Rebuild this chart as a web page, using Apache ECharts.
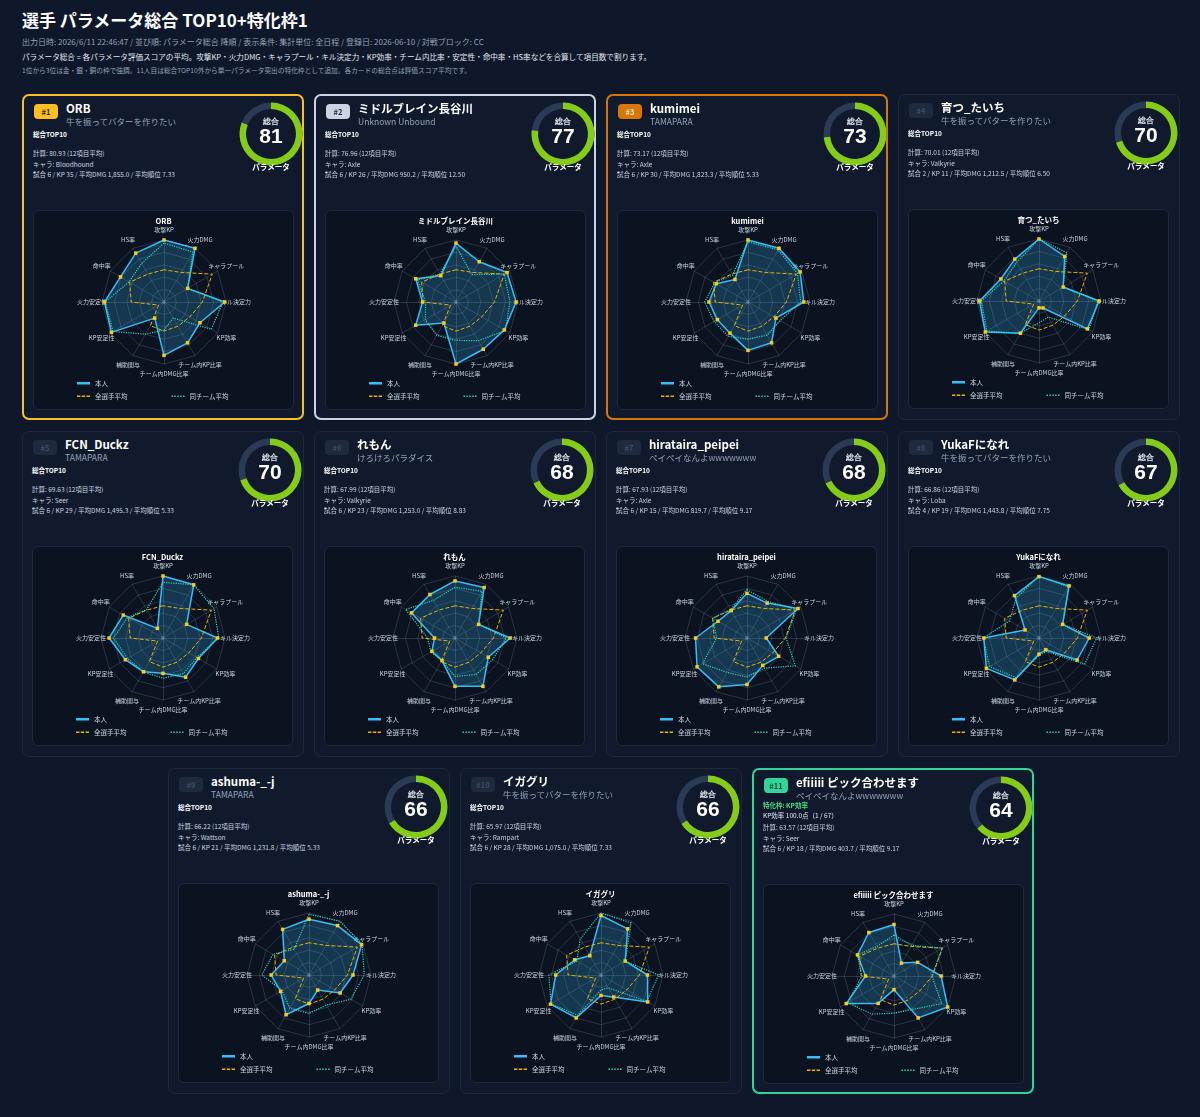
<!DOCTYPE html>
<html>
<head>
<meta charset="utf-8">
<script src="https://cdn.jsdelivr.net/npm/echarts@6/dist/echarts.min.js"></script>
<style>
body{margin:0;background:#0f172a;font-family:"Noto Sans CJK JP","Noto Sans",sans-serif;color:#e2e8f0;width:1200px;height:1117px;overflow:hidden;position:relative}
.h1{position:absolute;left:22px;top:7px;font-size:17px;font-weight:bold;color:#fff}
.meta{position:absolute;left:22px;top:36px;font-size:8px;color:#94a3b8}
.desc{position:absolute;left:22px;top:51px;font-size:7.6px;color:#e2e8f0}
.note{position:absolute;left:22px;top:65px;font-size:6.7px;color:#94a3b8}
.card{position:absolute;width:282px;height:326px;box-sizing:border-box;border-radius:7px;background:#111a2c;border:1px solid #1e293b}
.card>*{position:absolute}
.badge{left:10px;top:8px;width:24px;height:15px;border-radius:4px;font-size:7.5px;font-weight:bold;text-align:center;line-height:15px}
.name{left:42px;top:4px;font-size:11.5px;font-weight:bold;color:#fff;white-space:nowrap}
.team{left:42px;top:19px;font-size:8.5px;color:#94a3b8;white-space:nowrap}
.tag{left:9px;top:33px;font-size:6.5px;font-weight:bold;color:#fff}
.sp{left:9px;top:43px;font-size:6.5px;color:#e2e8f0}
.info{left:9px;font-size:6.5px;color:#cbd5e1;white-space:nowrap;line-height:10.5px}
.gauge{left:212px;top:3px;width:70px;height:70px}
.plabel{left:212px;top:65px;width:70px;text-align:center;font-size:7.5px;font-weight:bold;color:#fff}
.rbox{left:9px;top:114px;width:261px;height:200px;box-sizing:border-box;border:1px solid #1e293b;border-radius:6px;background:#0b1220}
.rchart{position:absolute;left:0;top:0;width:259px;height:198px}
</style>
</head>
<body>
<div class="h1">選手 パラメータ総合 TOP10+特化枠1</div>
<div class="meta">出力日時: 2026/6/11 22:46:47 / 並び順: パラメータ総合 降順 / 表示条件: 集計単位: 全日程 / 登録日: 2026-06-10 / 対戦ブロック: CC</div>
<div class="desc">パラメータ総合 = 各パラメータ評価スコアの平均。攻撃KP・火力DMG・キャラプール・キル決定力・KP効率・チーム内比率・安定性・命中率・HS率などを合算して項目数で割ります。</div>
<div class="note">1位から3位は金・銀・銅の枠で強調。11人目は総合TOP10外から単一パラメータ突出の特化枠として追加。各カードの総合点は評価スコア平均です。</div>
<script>
// radar axes (clockwise from top)
var axes=['攻撃KP','火力DMG','キャラプール','キル決定力','KP効率','チーム内KP比率','チーム内DMG比率','補助関与','KP安定性','火力安定性','命中率','HS率'];

var names=['ORB','ミドルブレイン長谷川','kumimei','育つ_たいち','FCN_Duckz','れもん','hirataira_peipei','YukaFになれ','ashuma-_-j','イガグリ','efiiiii ピック合わせます'];
var teams=['牛を振ってバターを作りたい','Unknown Unbound','TAMAPARA','牛を振ってバターを作りたい','TAMAPARA','けろけろパラダイス','ペイペイなんよwwwwwww','牛を振ってバターを作りたい','TAMAPARA','牛を振ってバターを作りたい','ペイペイなんよwwwwwww'];
var calc=[80.93,76.96,73.17,70.01,69.63,67.99,67.93,66.86,66.22,65.97,63.57];
var chars=['Bloodhound','Axle','Axle','Valkyrie','Seer','Valkyrie','Axle','Loba','Wattson','Rampart','Seer'];
var games=[6,6,6,2,6,6,6,4,6,6,6];
var kps=[35,26,30,11,29,23,15,19,21,28,18];
var avgDmg=['1,855.0','950.2','1,823.3','1,212.5','1,495.3','1,253.0','819.7','1,443.8','1,231.8','1,075.0','403.7'];
var avgRank=['7.33','12.50','5.33','6.50','5.33','8.83','9.17','7.75','5.33','7.33','9.17'];

var allAvg=[52,55,90,62,48,45,47,44,10,53,64,52];

var self1=[100,100,44,98,67,76,86,30,98,96,81,91];
var self2=[95,75,95,97,90,88,100,39,75,54,75,49];
var self3=[100,100,97,90,52,76,78,58,57,63,59,42];
var self4=[100,83,45,97,90,13,11,60,100,96,71,78];
var self5=[100,99,44,88,66,73,57,63,70,87,74,18];
var self6=[92,94,44,89,62,90,78,42,43,33,81,81];
var self7=[72,65,95,31,59,51,75,91,93,83,54,51];
var self8=[99,97,44,81,71,22,26,78,98,89,26,79];
var self9=[90,92,98,71,58,28,46,74,53,61,46,85];
var self10=[96,86,45,75,87,41,33,80,94,73,49,36];
var self11=[83,24,44,76,100,78,22,51,89,46,68,81];

var team1=[95,93,44,95,88,30,45,60,95,95,65,72];
var team2=[90,51,90,87,92,72,62,62,57,49,72,52];
var team3=[97,97,92,85,60,62,60,64,63,70,62,50];
var team4=[100,90,45,95,93,30,35,60,97,93,65,72];
var team5=[90,99,95,90,63,66,65,63,66,80,66,53];
var team6=[82,87,44,83,70,68,62,42,45,44,92,70];
var team7=[78,68,92,63,90,56,63,64,83,49,64,53];
var team8=[100,95,44,93,85,25,28,74,92,90,55,74];
var team9=[98,100,99,89,78,56,62,62,50,76,67,48];
var team10=[100,97,45,93,85,24,24,75,93,84,45,67];
var team11=[66,57,90,61,89,62,60,71,86,52,68,55];

var selfScores=[self1,self2,self3,self4,self5,self6,self7,self8,self9,self10,self11];
var teamScores=[team1,team2,team3,team4,team5,team6,team7,team8,team9,team10,team11];

var pos=[[22,94],[314,94],[606,94],[898,94],[22,431],[314,431],[606,431],[898,431],[168,768],[460,768],[752,768]];
var badgeStyle=[
  {bg:'#fbbf24',fg:'#3a2a05',border:'2px solid #fbbf24'},
  {bg:'#cbd5e1',fg:'#1e293b',border:'2px solid #cbd5e1'},
  {bg:'#d97706',fg:'#fde6c4',border:'2px solid #d97706'}
];

// echarts radar goes counter-clockwise, so flip the order
var order=[0,11,10,9,8,7,6,5,4,3,2,1];
function reorder(a){return order.map(function(k){return a[k];});}

var dashIcon='path://M0,0h5v2h-5z M7,0h5v2h-5z M14,0h5v2h-5z';
var dotIcon='path://M0,0h2v2h-2z M4,0h2v2h-2z M8,0h2v2h-2z M12,0h2v2h-2z M16,0h2v2h-2z';

names.forEach(function(nm,i){
  var c=document.createElement('div');
  c.className='card';
  c.style.left=pos[i][0]+'px';
  c.style.top=pos[i][1]+'px';
  var bs=badgeStyle[i]||(i==10?{bg:'#34d399',fg:'#064e3b',border:'2px solid #34d399'}:{bg:'#1e2a3d',fg:'#3d4d66',border:'1px solid #1e293b'});
  c.style.border=bs.border;
  var html='<div class="badge" style="background:'+bs.bg+';color:'+bs.fg+'">#'+(i+1)+'</div>'+
    '<div class="name">'+nm+'</div><div class="team">'+teams[i]+'</div>';
  if(i==10){
    html+='<div class="tag" style="color:#4ade80;top:30px">特化枠: KP効率</div><div class="sp" style="top:40px">KP効率 100.0点（1 / 67）</div>';
  }else{
    html+='<div class="tag">総合TOP10</div>';
  }
  html+='<div class="info" style="top:52px">計算: '+calc[i].toFixed(2)+' (12項目平均)<br>キャラ: '+chars[i]+
    '<br>試合 '+games[i]+' / KP '+kps[i]+' / 平均DMG '+avgDmg[i]+' / 平均順位 '+avgRank[i]+'</div>';
  html+='<div class="gauge"></div><div class="plabel">パラメータ</div>';
  html+='<div class="rbox"><div class="rchart"></div></div>';
  c.innerHTML=html;
  document.body.appendChild(c);

  var g=echarts.init(c.querySelector('.gauge'));
  g.setOption({
    animation:false,
    series:[{
      type:'gauge',startAngle:90,endAngle:-270,min:0,max:100,radius:'90%',
      progress:{show:true,width:6.5,itemStyle:{color:'#84cc16'}},
      axisLine:{lineStyle:{width:6.5,color:[[1,'#2b3a55']]}},
      pointer:{show:false},axisTick:{show:false},splitLine:{show:false},axisLabel:{show:false},anchor:{show:false},
      title:{offsetCenter:[0,-12],fontSize:7.5,fontWeight:'bold',color:'#e2e8f0'},
      detail:{offsetCenter:[0,3],fontSize:21,fontWeight:'bold',color:'#fff',formatter:function(v){return Math.round(v);}},
      data:[{value:calc[i],name:'総合'}]
    }]
  });

  var r=echarts.init(c.querySelector('.rchart'));
  r.setOption({
    animation:false,
    textStyle:{fontFamily:'"Noto Sans CJK JP", sans-serif'},
    title:{text:nm,left:'center',top:1,textStyle:{fontSize:7.5,fontWeight:'bold',color:'#fff'}},
    graphic:[{type:'text',x:130,y:91,style:{text:'0',fontSize:6,fill:'#64748b',align:'center',verticalAlign:'middle'}}],
    legend:[
      {data:[{name:'本人',icon:'rect',itemStyle:{color:'#38bdf8'}}],left:38,top:164,itemWidth:13,itemHeight:2.5,
       selectedMode:false,textStyle:{fontSize:6.5,color:'#cbd5e1'}},
      {data:[{name:'全選手平均',icon:dashIcon,itemStyle:{color:'#eab308'}},{name:'同チーム平均',icon:dotIcon,itemStyle:{color:'#2dd4bf'}}],
       left:38,top:177,itemWidth:13,itemHeight:2,itemGap:44,selectedMode:false,textStyle:{fontSize:6.5,color:'#cbd5e1'}}
    ],
    radar:{
      center:[130,91],radius:62,splitNumber:5,shape:'polygon',
      indicator:reorder(axes).map(function(a){return {name:a,min:0,max:100};}),
      axisName:{color:'#cbd5e1',fontSize:6,align:'center',verticalAlign:'middle'},nameGap:10,
      splitLine:{lineStyle:{color:'rgba(148,163,184,0.24)'}},
      axisLine:{lineStyle:{color:'rgba(148,163,184,0.24)'}},
      splitArea:{show:false},
      axisLabel:{show:false}
    },
    series:[{
      type:'radar',
      data:[
        {name:'本人',value:reorder(selfScores[i]),symbol:'rect',symbolSize:3.5,
         itemStyle:{color:'#facc15'},lineStyle:{color:'#38bdf8',width:1.5},areaStyle:{color:'rgba(56,189,248,0.32)'}},
        {name:'全選手平均',value:reorder(allAvg),symbol:'none',lineStyle:{color:'#eab308',type:'dashed',width:1}},
        {name:'同チーム平均',value:reorder(teamScores[i]),symbol:'none',lineStyle:{color:'#2dd4bf',type:'dotted',width:1.2}}
      ]
    }]
  });
});
</script>
</body>
</html>
